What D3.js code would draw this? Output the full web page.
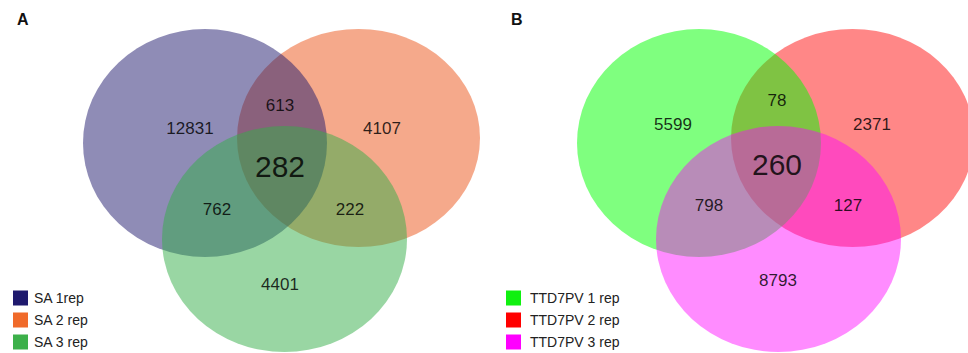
<!DOCTYPE html>
<html>
<head>
<meta charset="utf-8">
<script src="https://cdn.jsdelivr.net/npm/d3@7"></script>
<style>
  html, body { margin: 0; padding: 0; background: #fff; }
  svg { display: block; font-family: Arial, "Liberation Sans", Helvetica, sans-serif; }
</style>
</head>
<body>
<svg id="chart" width="968" height="353"></svg>
<script>
// ---- data ----
const setNamesA = ["SA 1rep", "SA 2 rep", "SA 3 rep"];
const setNamesB = ["TTD7PV 1 rep", "TTD7PV 2 rep", "TTD7PV 3 rep"];

// region keys: 1 only, 1&2, 2 only, 1&2&3, 1&3, 2&3, 3 only
const regionKeys = ["1", "12", "2", "123", "13", "23", "3"];
const countsA = [12831, 613, 4107, 282, 762, 222, 4401];
const countsB = [5599, 78, 2371, 260, 798, 127, 8793];

// ---- styles ----
const legendColorsA = ["#1f1a6e", "#f06a2a", "#3cb04a"];
const fillColorsA = ["#1f1a6e", "#ec5418", "#33ad48"];
const fillOpacityA = [0.5, 0.5, 0.5];
const legendColorsB = ["#10f010", "#ff0000", "#ff00ff"];
const fillColorsB = ["#00ff00", "#ff1010", "#ff00ff"];
const fillOpacityB = [0.5, 0.5, 0.45];

// ---- layout ----
const W = 968, H = 353;
const panelOffset = [0, 494];

// ellipse geometry in a 0..480 panel frame
const ellipses = [
  { cx: 205, cy: 143, rx: 122, ry: 114 },
  { cx: 358.5, cy: 138, rx: 121.5, ry: 109 },
  { cx: 284.5, cy: 239, rx: 122.5, ry: 113 }
];
// drawing order: set 2 underneath, then set 1, then set 3 on top
const drawOrder = [1, 0, 2];

const labelPosA = {
  "1": [190, 128], "12": [280, 105], "2": [382, 128], "123": [280, 166],
  "13": [217, 209], "23": [350, 209], "3": [280, 284]
};
const labelPosB = {
  "1": [179, 124], "12": [283, 100], "2": [378, 124], "123": [283, 164],
  "13": [215, 205], "23": [354, 205], "3": [284, 280]
};

const panels = [
  { id: "A", names: setNamesA, counts: countsA, colors: fillColorsA, opac: fillOpacityA, legend: legendColorsA, labels: labelPosA },
  { id: "B", names: setNamesB, counts: countsB, colors: fillColorsB, opac: fillOpacityB, legend: legendColorsB, labels: labelPosB }
];

const svg = d3.select("#chart");

panels.forEach((p, pi) => {
  const x = d3.scaleLinear().domain([0, 480]).range([panelOffset[pi], panelOffset[pi] + 480]);
  const y = d3.scaleLinear().domain([0, H]).range([0, H]);
  const g = svg.append("g");

  // panel letter
  g.append("text")
    .attr("x", x(17))
    .attr("y", y(25))
    .attr("font-size", 16)
    .attr("font-weight", "bold")
    .attr("fill", "#111")
    .text(p.id);

  // set ellipses
  g.selectAll("ellipse")
    .data(drawOrder)
    .join("ellipse")
    .attr("cx", i => x(ellipses[i].cx))
    .attr("cy", i => y(ellipses[i].cy))
    .attr("rx", i => x(ellipses[i].rx) - x(0))
    .attr("ry", i => y(ellipses[i].ry) - y(0))
    .attr("fill", i => p.colors[i])
    .attr("fill-opacity", i => p.opac[i]);

  // region counts
  g.selectAll("text.count")
    .data(regionKeys.map((k, i) => ({ key: k, value: p.counts[i] })))
    .join("text")
    .attr("class", "count")
    .attr("x", d => x(p.labels[d.key][0]))
    .attr("y", d => y(p.labels[d.key][1]))
    .attr("text-anchor", "middle")
    .attr("dominant-baseline", "central")
    .attr("font-size", d => d.key === "123" ? 30 : 17)
    .attr("fill", "#000")
    .attr("fill-opacity", 0.82)
    .text(d => d.value);

  // legend
  const leg = g.append("g");
  const rowY = d3.scalePoint().domain(p.names).range([298, 342]);
  const sqX = pi === 0 ? 13 : 12;
  const txX = pi === 0 ? 34 : 36;
  leg.selectAll("rect")
    .data(p.names)
    .join("rect")
    .attr("x", x(sqX))
    .attr("y", d => rowY(d) - 7.5)
    .attr("width", 15)
    .attr("height", 15)
    .attr("fill", (d, i) => p.legend[i]);
  leg.selectAll("text")
    .data(p.names)
    .join("text")
    .attr("x", x(txX))
    .attr("y", d => rowY(d))
    .attr("dominant-baseline", "central")
    .attr("font-size", 14)
    .attr("fill", "#222")
    .text(d => d);
});
</script>
</body>
</html>
